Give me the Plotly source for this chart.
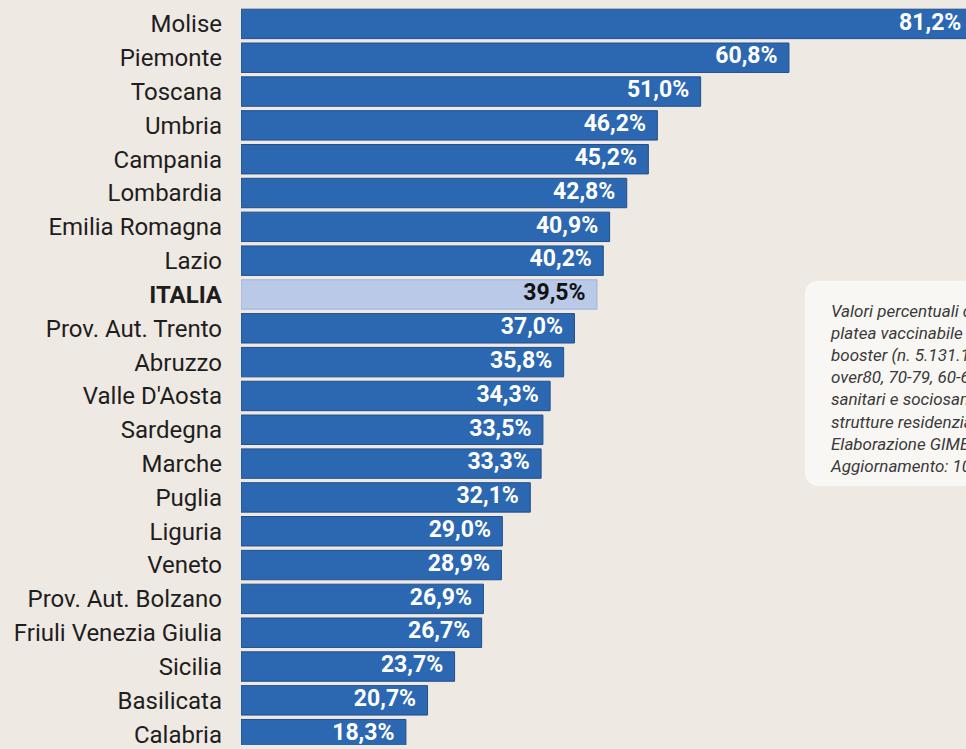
import plotly.graph_objects as go

regions = ["Molise", "Piemonte", "Toscana", "Umbria", "Campania", "Lombardia",
           "Emilia Romagna", "Lazio", "ITALIA", "Prov. Aut. Trento", "Abruzzo",
           "Valle D'Aosta", "Sardegna", "Marche", "Puglia", "Liguria", "Veneto",
           "Prov. Aut. Bolzano", "Friuli Venezia Giulia", "Sicilia", "Basilicata",
           "Calabria"]
values = [81.2, 60.8, 51.0, 46.2, 45.2, 42.8, 40.9, 40.2, 39.5, 37.0, 35.8,
          34.3, 33.5, 33.3, 32.1, 29.0, 28.9, 26.9, 26.7, 23.7, 20.7, 18.3]
highlight = "ITALIA"

note_lines = [
    "Valori percentuali calcolati sulla",
    "platea vaccinabile con dose",
    "booster (n. 5.131.130) che include",
    "over80, 70-79, 60-69 anni fragili,",
    "sanitari e sociosanitari e ospiti",
    "strutture residenziali.",
    "Elaborazione GIMBE su dati ufficiali",
    "Aggiornamento: 10 marzo 2022",
]

BG = "#efe9e3"
BLUE = "#2c68b2"
LIGHT = "#b9c9e7"

colors = [LIGHT if r == highlight else BLUE for r in regions]
line_colors = ["#9fb3d9" if r == highlight else "#1f4f8c" for r in regions]
text_colors = ["#111111" if r == highlight else "white" for r in regions]
labels = [(f"{v:.1f}%".replace(".", ",")) + "\u00a0\u00a0" for v in values]
ticktext = [f"<b>{r}</b>" if r == highlight else r for r in regions]

W, H = 980, 749
L, T = 241, 7
PW, PH = W - L, H - T

fig = go.Figure()
fig.add_trace(go.Bar(
    x=values, y=regions, orientation="h",
    marker=dict(color=colors, line=dict(color=line_colors, width=1)),
    hoverinfo="skip",
))
fig.add_trace(go.Scatter(
    x=values, y=regions, mode="text",
    text=labels, textposition="middle left",
    textfont=dict(family="Roboto", size=23, color=text_colors, weight="bold"),
    cliponaxis=False, hoverinfo="skip",
))

fig.update_layout(
    width=W, height=H,
    margin=dict(l=L, r=0, t=T, b=0),
    paper_bgcolor=BG, plot_bgcolor=BG,
    bargap=0.13,
    showlegend=False,
)
fig.update_xaxes(range=[0, 82.0], visible=False, showgrid=False, zeroline=False)
fig.update_yaxes(
    categoryorder="array", categoryarray=regions,
    range=[21.32, -0.5],
    tickmode="array", tickvals=regions, ticktext=ticktext,
    tickfont=dict(family="Roboto", size=24, color="#1e1e1e"),
    ticks="", ticklabelstandoff=18, showgrid=False, zeroline=False, showline=False,
)

# rounded note box
x0, x1, y0, y1 = 0.763, 1.05, 0.351, 0.629
rx, ry = 15 / PW, 15 / PH
path = (f"M {x0 + rx},{y1} L {x1},{y1} L {x1},{y0} L {x0 + rx},{y0} "
        f"Q {x0},{y0} {x0},{y0 + ry} L {x0},{y1 - ry} Q {x0},{y1} {x0 + rx},{y1} Z")
fig.add_shape(type="path", path=path, xref="paper", yref="paper",
              fillcolor="#f9f7f4", line=dict(width=0), layer="below")

fig.add_annotation(
    xref="paper", yref="paper", x=0.794, y=0.483, xanchor="left", yanchor="middle",
    align="left", showarrow=False,
    text="<br>".join(f"<i>{l}</i>" for l in note_lines),
    font=dict(family="Liberation Sans Narrow, Roboto", size=17, color="#3a3a3a"),
)

fig.write_html("out.html", config={"displayModeBar": False},
               post_script="document.body.style.margin='0';document.body.style.overflow='hidden';")
